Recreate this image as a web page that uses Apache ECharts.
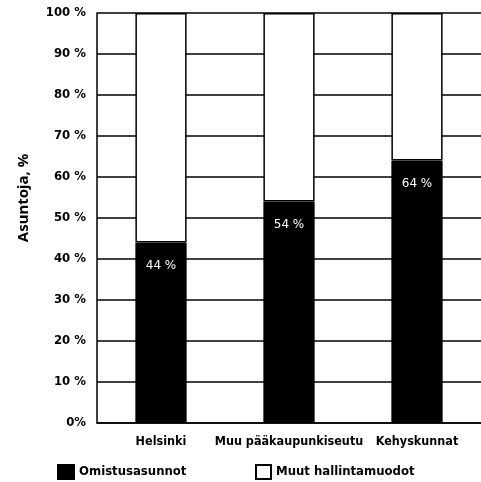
<!DOCTYPE html>
<html>
<head>
<meta charset="utf-8">
<script src="https://cdn.jsdelivr.net/npm/echarts@6/dist/echarts.min.js"></script>
<style>
  html, body { margin: 0; padding: 0; background: #fff; }
  #chart { width: 481px; height: 482px; }
</style>
</head>
<body>
<div id="chart"></div>
<script>
// alueet ja osuudet (%)
const categories = ['Helsinki', 'Muu pääkaupunkiseutu', 'Kehyskunnat'];
const omistus = [44, 54, 64];
const muut = [56, 46, 36];
const seriesNames = ['Omistusasunnot', 'Muut hallintamuodot'];

const font = 'DejaVu Sans Condensed';
const legendText = { fontFamily: font, fontWeight: 'bold', fontSize: 13, color: '#000' };

const chart = echarts.init(document.getElementById('chart'));

const option = {
  animation: false,
  grid: { left: 97, right: 0, top: 13, bottom: 59 },
  legend: [
    { left: 52, top: 459, itemWidth: 16, itemHeight: 14, icon: 'rect', textStyle: legendText, data: [seriesNames[0]] },
    { left: 250, top: 459, itemWidth: 15, itemHeight: 14, icon: 'rect', textStyle: legendText, data: [seriesNames[1]] }
  ],
  xAxis: {
    type: 'category',
    data: categories,
    axisLine: { lineStyle: { color: '#000', width: 1.5 } },
    axisTick: { show: false },
    axisLabel: { interval: 0, fontFamily: font, fontWeight: 'bold', fontSize: 12.5, color: '#000', margin: 12 }
  },
  yAxis: {
    type: 'value',
    min: 0,
    max: 100,
    interval: 10,
    name: 'Asuntoja, %',
    nameLocation: 'middle',
    nameGap: 66,
    nameTextStyle: { fontFamily: 'Noto Sans', fontWeight: 'bold', fontSize: 15, color: '#000', padding: [0, 0, 0, 40] },
    axisLine: { show: true, lineStyle: { color: '#000', width: 1.5 } },
    axisTick: { show: false },
    splitLine: { lineStyle: { color: '#000', width: 1.5 } },
    axisLabel: {
      fontFamily: font, fontWeight: 'bold', fontSize: 13, color: '#000', margin: 11,
      formatter: v => v === 0 ? '0%' : v + ' %'
    }
  },
  series: [
    {
      name: seriesNames[0],
      type: 'bar',
      stack: 'a',
      barWidth: '40%',
      data: omistus,
      itemStyle: { color: '#000', borderColor: '#000', borderWidth: 1 },
      label: {
        show: true,
        position: 'insideTop',
        distance: 17,
        color: '#fff',
        fontFamily: 'DejaVu Sans',
        fontSize: 12,
        formatter: p => p.value + ' %'
      }
    },
    {
      name: seriesNames[1],
      type: 'bar',
      stack: 'a',
      data: muut,
      itemStyle: { color: '#fff', borderColor: '#000', borderWidth: 1.5 }
    }
  ]
};

chart.setOption(option);
</script>
</body>
</html>
